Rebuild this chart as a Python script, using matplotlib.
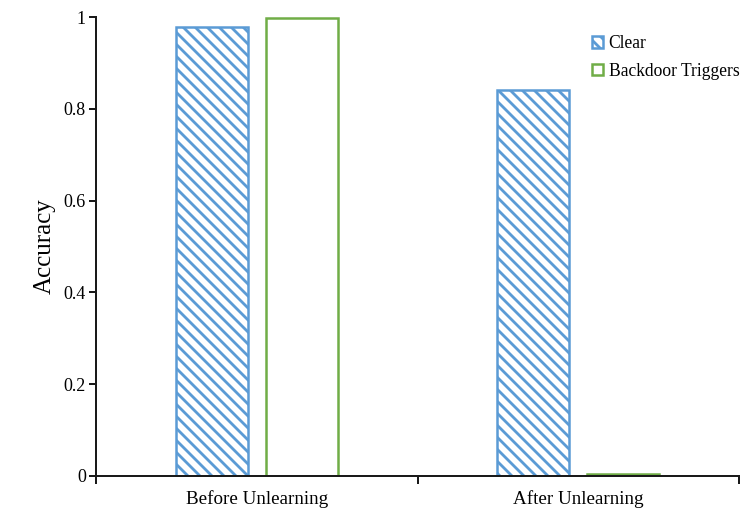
import matplotlib
matplotlib.use("Agg")
import matplotlib.pyplot as plt
import numpy as np

categories = ["Before Unlearning", "After Unlearning"]
series_names = ["Clear", "Backdoor Triggers"]
clear_acc = [0.979, 0.840]
backdoor_acc = [0.998, 0.005]
y_ticks = [0, 0.2, 0.4, 0.6, 0.8, 1]
y_tick_labels = ["0", "0.2", "0.4", "0.6", "0.8", "1"]

BLUE = "#5B9BD5"
GREEN = "#70AD47"

plt.rcParams["font.family"] = ["Liberation Serif", "DejaVu Serif"]
plt.rcParams["hatch.linewidth"] = 2.8
plt.rcParams["hatch.color"] = BLUE

DPI = 72
fig = plt.figure(figsize=(754 / DPI, 523 / DPI), dpi=DPI)
ax = fig.add_axes([96 / 754, 1 - 476 / 523, (739 - 96) / 754, (476 - 17) / 523])

x = np.arange(len(categories))
width = 0.225
offset = 0.14

ax.bar(x - offset, clear_acc, width, facecolor="white", edgecolor=BLUE,
       hatch="\\\\", linewidth=2.5, label=series_names[0])
ax.bar(x + offset, backdoor_acc, width, facecolor="white", edgecolor=GREEN,
       linewidth=2.5, label=series_names[1])

ax.set_xlim(-0.5, len(categories) - 0.5)
ax.set_ylim(0, 1)

# category boundaries get the tick marks, centres get the labels
ax.set_xticks(np.arange(-0.5, len(categories), 1.0))
ax.set_xticklabels([])
ax.set_xticks(x, minor=True)
ax.set_xticklabels(categories, minor=True, fontsize=19)
ax.tick_params(axis="x", which="major", direction="out", length=8, width=2, color="#1a1a1a")
ax.tick_params(axis="x", which="minor", length=0, pad=14)

ax.set_yticks(y_ticks)
ax.set_yticklabels(y_tick_labels, fontsize=18)
ax.tick_params(axis="y", direction="out", length=7, width=2, pad=3, color="#1a1a1a")

ax.set_ylabel("Accuracy", fontsize=25, labelpad=8)

for side in ("top", "right"):
    ax.spines[side].set_visible(False)
for side in ("left", "bottom"):
    ax.spines[side].set_linewidth(2)
    ax.spines[side].set_color("#1a1a1a")

ax.legend(loc="upper left", bbox_to_anchor=(592 / 754, 1 - 35 / 523),
          bbox_transform=fig.transFigure, frameon=False, fontsize=17.5,
          handlelength=0.65, handleheight=0.65, handletextpad=0.3,
          labelspacing=0.6, borderpad=0, borderaxespad=0)

fig.savefig("out.png", dpi=DPI)
